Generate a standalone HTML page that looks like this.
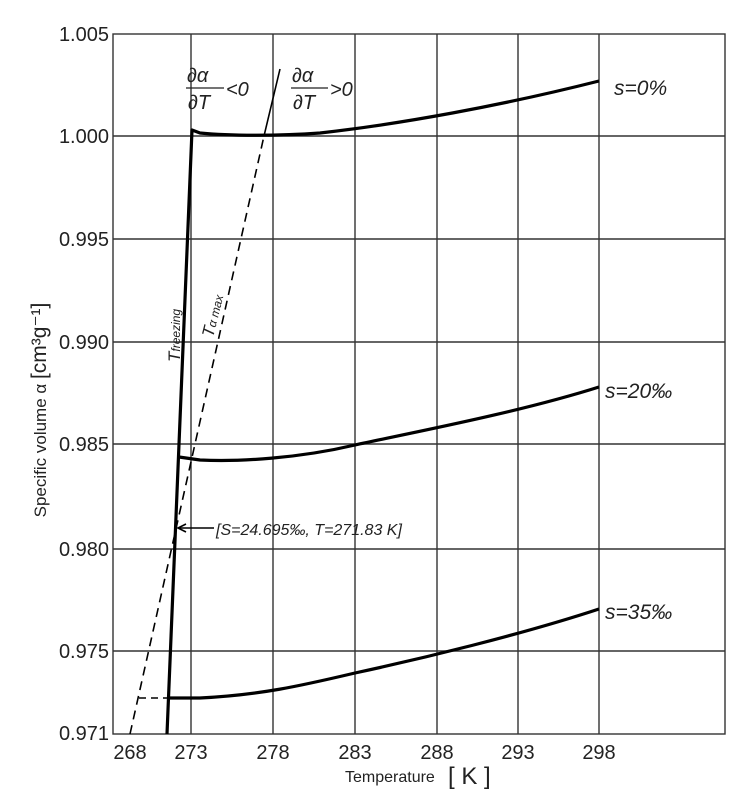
<!DOCTYPE html>
<html><head><style>body{margin:0;background:#fff}svg{display:block}text{font-family:"Liberation Sans",sans-serif;fill:#222}</style></head><body>
<svg width="752" height="800" viewBox="0 0 752 800" xmlns="http://www.w3.org/2000/svg">
<g stroke="#333" stroke-width="1.4" fill="none">
<rect x="113" y="34" width="612" height="700"/>
<line x1="191" y1="34" x2="191" y2="734"/><line x1="273" y1="34" x2="273" y2="734"/><line x1="355" y1="34" x2="355" y2="734"/><line x1="437" y1="34" x2="437" y2="734"/><line x1="518" y1="34" x2="518" y2="734"/><line x1="599" y1="34" x2="599" y2="734"/>
<line x1="113" y1="136" x2="725" y2="136"/><line x1="113" y1="239" x2="725" y2="239"/><line x1="113" y1="342" x2="725" y2="342"/><line x1="113" y1="444" x2="725" y2="444"/><line x1="113" y1="549" x2="725" y2="549"/><line x1="113" y1="651" x2="725" y2="651"/>
</g>
<g stroke="#000" stroke-width="3.2" fill="none" stroke-linejoin="round">
<path d="M167 734 L192 130 L200 133 C230 136 280 136 320 133 C400 124 500 106 599 81"/>
<path d="M179 457 L200 460 C240 462 300 458 355 445 C420 431 520 412 599 387"/>
<path d="M168 698 L200 698 C260 695 300 686 355 673 C420 659 520 635 599 609"/>
</g>
<g stroke="#000" stroke-width="1.6" fill="none">
<path d="M130 734 L264 136" stroke-dasharray="9,6"/>
<path d="M264 136 L280 69"/>
<path d="M139 698 L168 698" stroke-dasharray="7,5"/>
<path d="M214 528 L178 528"/><path d="M186 524 L178 528 L186 532"/>
</g>
<g font-size="20" text-anchor="end">
<text x="109" y="41">1.005</text><text x="109" y="143">1.000</text><text x="109" y="246">0.995</text><text x="109" y="349">0.990</text><text x="109" y="451">0.985</text><text x="109" y="556">0.980</text><text x="109" y="658">0.975</text><text x="109" y="740">0.971</text>
</g>
<g font-size="20" text-anchor="middle">
<text x="130" y="759">268</text><text x="191" y="759">273</text><text x="273" y="759">278</text><text x="355" y="759">283</text><text x="437" y="759">288</text><text x="518" y="759">293</text><text x="599" y="759">298</text>
</g>
<text x="345" y="782" font-size="16">Temperature</text><text x="448" y="784" font-size="24">[ K ]</text>
<text transform="translate(46,410) rotate(-90)" text-anchor="middle" font-size="17">Specific volume α  <tspan font-size="21">[cm³g⁻¹]</tspan></text>
<g font-size="20" font-style="italic">
<text x="187" y="82">∂α</text><line x1="186" y1="88" x2="224" y2="88" stroke="#222" stroke-width="1.3"/><text x="188" y="109">∂T</text><text x="226" y="96">&lt;0</text>
<text x="292" y="82">∂α</text><line x1="291" y1="88" x2="328" y2="88" stroke="#222" stroke-width="1.3"/><text x="293" y="109">∂T</text><text x="330" y="96">&gt;0</text>
<text x="614" y="95" font-size="21">s=0%</text>
<text x="605" y="398" font-size="21">s=20‰</text>
<text x="605" y="619" font-size="21">s=35‰</text>
<text x="216" y="535" font-size="16">[S=24.695‰, T=271.83 K]</text>
<text transform="translate(180,362) rotate(-90)" font-size="17">T<tspan font-size="12">freezing</tspan></text>
<text transform="translate(213,338) rotate(-76)" font-size="17">T<tspan font-size="12">α max</tspan></text>
</g>
</svg>
</body></html>
